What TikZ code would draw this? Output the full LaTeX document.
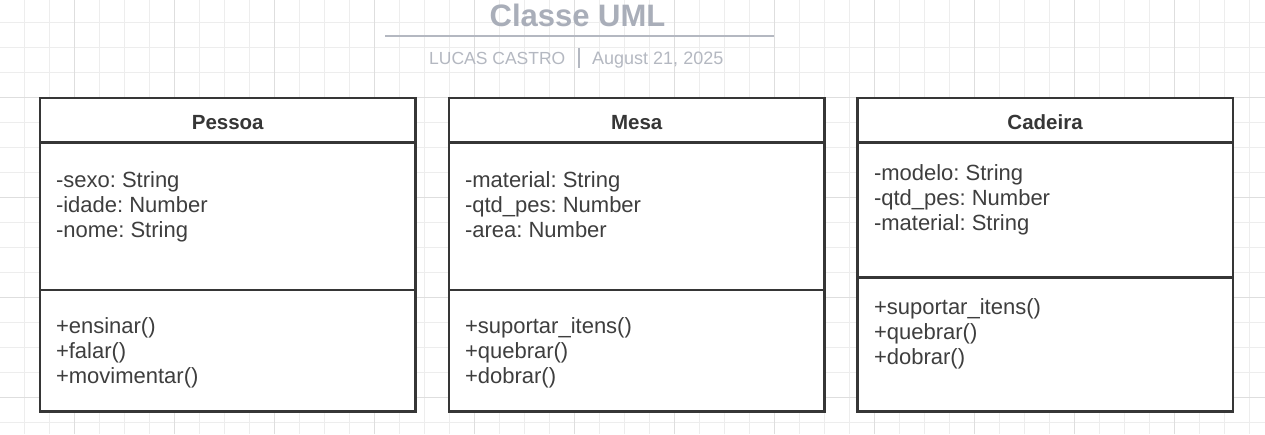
\documentclass[tikz,border=0pt]{standalone}
\usepackage{fontspec}
\setmainfont{Liberation Sans}
\frenchspacing
\definecolor{gridlight}{HTML}{EDEDED}
\definecolor{griddark}{HTML}{DEDEDE}
\definecolor{boxline}{HTML}{363636}
\definecolor{txt}{HTML}{3E3E3E}
\definecolor{titlegray}{HTML}{A9AEB9}
\definecolor{subgray}{HTML}{B4B8C1}
\begin{document}
\begin{tikzpicture}[x=1pt,y=-1pt,
  classbox/.style={draw=boxline, line width=2.5pt, fill=white, inner sep=0pt, outer sep=0pt,
                   minimum width=375.5pt, anchor=north west},
  header/.style={classbox, minimum height=44.7pt, font=\fontsize{20.5}{24}\selectfont\bfseries,
                 text=boxline, text height=17.3pt, text depth=0pt},
  member/.style={anchor=base west, inner sep=0pt, outer sep=0pt, text=txt,
                 font=\fontsize{22}{25}\selectfont},
  gridl/.style={draw=gridlight, line width=1pt},
  gridd/.style={draw=griddark, line width=1pt}]
\useasboundingbox (0,0) rectangle (1265,434);
\fill[white] (0,0) rectangle (1265,434);
% grid
\foreach \i in {1,...,50} \draw[gridl] (25*\i-0.5,0) -- (25*\i-0.5,434);
\foreach \j in {0,...,17} \draw[gridl] (0,22.5+25*\j) -- (1265,22.5+25*\j);
\foreach \i in {0,...,11} \draw[gridd] (74.5+100*\i,0) -- (74.5+100*\i,434);
\foreach \y in {97.5,197.5,297.5,397.5} \draw[gridd] (0,\y) -- (1265,\y);
% title
\node[anchor=base, inner sep=0pt, text=titlegray, font=\fontsize{31}{36}\selectfont\bfseries] (title) at (577.5,26) {Classe UML};
\coordinate (ulA) at (385,36);
\coordinate (ulB) at (774,36);
\draw[draw=subgray, line width=2.6pt] (ulA) -- (ulB);
\node[anchor=base west, inner sep=0pt, text=subgray, font=\fontsize{17.5}{20}\selectfont] (author) at (429,64) {LUCAS CASTRO};
\node[anchor=base west, inner sep=0pt, text=subgray, font=\fontsize{18}{20}\selectfont] (date) at (592,64) {August 21, 2025};
\coordinate (barA) at (579,48);
\coordinate (barB) at (579,68);
\draw[draw=subgray, line width=1.5pt] (barA) -- (barB);
% Pessoa
\node[classbox, minimum height=192pt] (pA) at (40,142.7) {};
\node[classbox, minimum height=121.5pt] (pM) at (40,290) {};
\node[header] (pH) at (40,98) {Pessoa};
\node[member] (pa1) at (56,187.5) {-sexo: String};
\node[member] (pa2) at (56,212.5) {-idade: Number};
\node[member] (pa3) at (56,237.5) {-nome: String};
\node[member] (pm1) at (56,333.5) {+ensinar()};
\node[member] (pm2) at (56,358.5) {+falar()};
\node[member] (pm3) at (56,383.5) {+movimentar()};
% Mesa
\node[classbox, minimum height=192pt] (mA) at (449,142.7) {};
\node[classbox, minimum height=121.5pt] (mM) at (449,290) {};
\node[header] (mH) at (449,98) {Mesa};
\node[member] (ma1) at (465,187.5) {-material: String};
\node[member] (ma2) at (465,212.5) {-qtd\_pes: Number};
\node[member] (ma3) at (465,237.5) {-area: Number};
\node[member] (mm1) at (465,333.5) {+suportar\_itens()};
\node[member] (mm2) at (465,358.5) {+quebrar()};
\node[member] (mm3) at (465,383.5) {+dobrar()};
% Cadeira
\node[classbox, minimum height=135pt] (cA) at (857.3,142.7) {};
\node[classbox, minimum height=133.8pt] (cM) at (857.3,277.7) {};
\node[header] (cH) at (857.3,98) {Cadeira};
\node[member] (ca1) at (874,180.7) {-modelo: String};
\node[member] (ca2) at (874,205.7) {-qtd\_pes: Number};
\node[member] (ca3) at (874,230.7) {-material: String};
\node[member] (cm1) at (874,314.5) {+suportar\_itens()};
\node[member] (cm2) at (874,339.5) {+quebrar()};
\node[member] (cm3) at (874,364.5) {+dobrar()};
\end{tikzpicture}
\end{document}
